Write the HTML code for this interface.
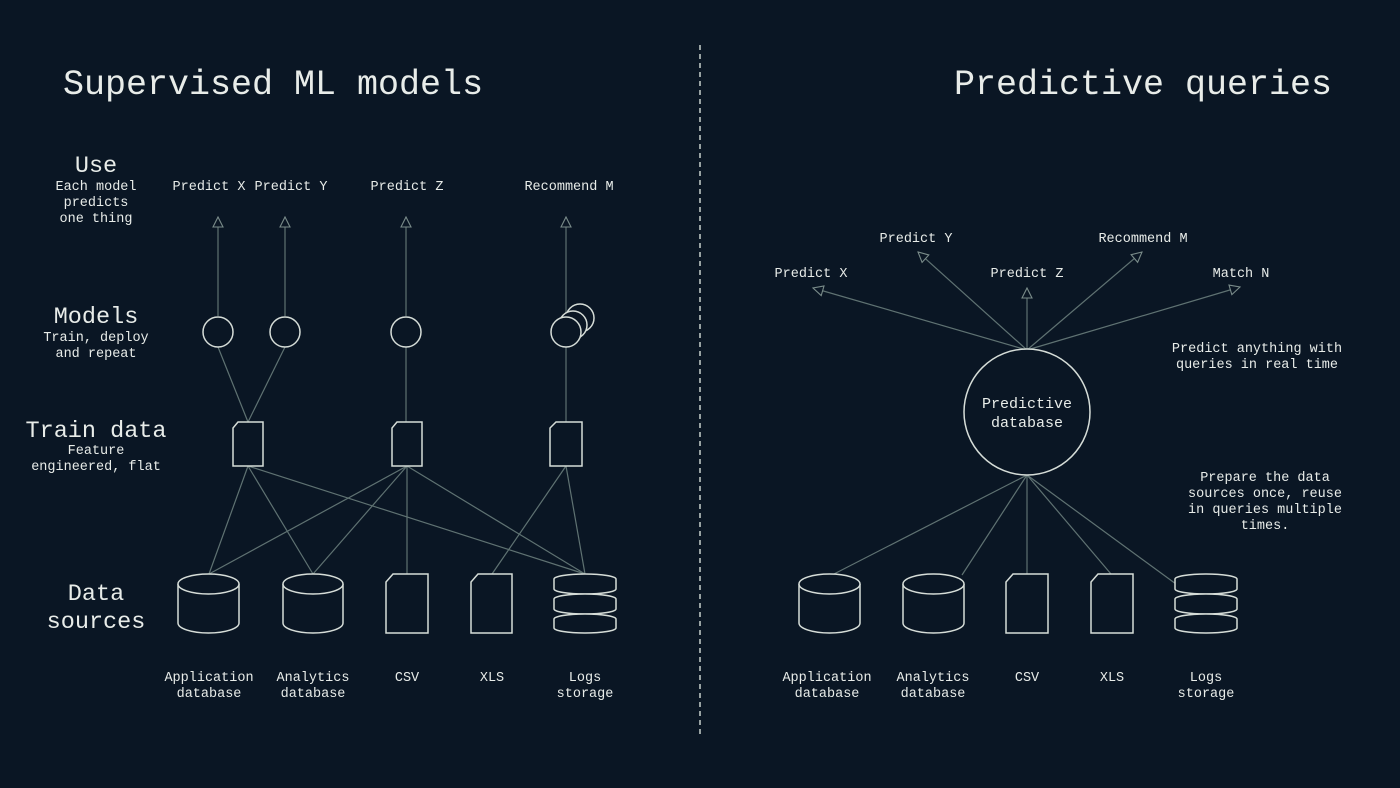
<!DOCTYPE html>
<html><head><meta charset="utf-8"><style>
html,body{margin:0;padding:0;background:#0a1624;}
svg{display:block}
text{font-family:"Liberation Mono","DejaVu Sans Mono",monospace;fill:#e8ece9;}
.s{font-size:13.5px;text-anchor:middle}
.h{font-size:23.5px;text-anchor:middle}
.t{font-size:35px}
.l{stroke:#5f7272;stroke-width:1.2;fill:none}
.o{stroke:#d6ddd8;stroke-width:1.5;fill:#0a1624}
</style></head><body>
<svg width="1400" height="788" viewBox="0 0 1400 788">
<defs><marker id="a" viewBox="0 0 12 12" refX="11" refY="6" markerWidth="12" markerHeight="12" markerUnits="userSpaceOnUse" orient="auto"><path d="M1,1 L11,6 L1,11 Z" fill="#0a1624" stroke="#7a8c8a" stroke-width="1.1"/></marker></defs>
<line x1="700" y1="45" x2="700" y2="738" stroke="#c8d0cc" stroke-width="1.5" stroke-dasharray="5,4"/>
<text class="t" x="63" y="94">Supervised ML models</text>
<text class="t" x="954" y="94">Predictive queries</text>

<text class="h" x="96" y="172">Use</text>
<text class="s" x="96" y="190">Each model</text><text class="s" x="96" y="206">predicts</text><text class="s" x="96" y="222">one thing</text>
<text class="h" x="96" y="323">Models</text>
<text class="s" x="96" y="341">Train, deploy</text><text class="s" x="96" y="357">and repeat</text>
<text class="h" x="96" y="437">Train data</text>
<text class="s" x="96" y="454">Feature</text><text class="s" x="96" y="470">engineered, flat</text>
<text class="h" x="96" y="600">Data</text><text class="h" x="96" y="628">sources</text>

<text class="s" x="209" y="190">Predict X</text><text class="s" x="291" y="190">Predict Y</text>
<text class="s" x="407" y="190">Predict Z</text><text class="s" x="569" y="190">Recommend M</text>

<g class="l">
<line x1="218" y1="316" x2="218" y2="217" marker-end="url(#a)"/>
<line x1="285" y1="316" x2="285" y2="217" marker-end="url(#a)"/>
<line x1="406" y1="316" x2="406" y2="217" marker-end="url(#a)"/>
<line x1="566" y1="316" x2="566" y2="217" marker-end="url(#a)"/>
<line x1="218" y1="347" x2="248" y2="422"/><line x1="285" y1="347" x2="248" y2="422"/>
<line x1="406" y1="347" x2="406" y2="422"/><line x1="566" y1="347" x2="566" y2="422"/>
<line x1="248" y1="466" x2="209" y2="574"/><line x1="248" y1="466" x2="313" y2="574"/><line x1="248" y1="466" x2="585" y2="574"/>
<line x1="407" y1="466" x2="209" y2="574"/><line x1="407" y1="466" x2="313" y2="574"/><line x1="407" y1="466" x2="407" y2="574"/><line x1="407" y1="466" x2="585" y2="574"/>
<line x1="566" y1="466" x2="492" y2="574"/><line x1="566" y1="466" x2="585" y2="574"/>
</g>
<g class="o">
<circle cx="218" cy="332" r="15"/><circle cx="285" cy="332" r="15"/><circle cx="406" cy="332" r="15"/>
<circle cx="580" cy="318" r="14"/><circle cx="573" cy="325" r="14"/><circle cx="566" cy="332" r="15"/>
<path d="M238,422 H263 V466 H233 V428 Z"/>
<path d="M397,422 H422 V466 H392 V428 Z"/>
<path d="M556,422 H582 V466 H550 V428 Z"/>
<!-- left sources -->
<path d="M178,584 V623 A30.5,10 0 0 0 239,623 V584"/><ellipse cx="208.5" cy="584" rx="30.5" ry="10"/>
<path d="M283,584 V623 A30,10 0 0 0 343,623 V584"/><ellipse cx="313" cy="584" rx="30" ry="10"/>
<path d="M393,574 H428 V633 H386 V582 Z"/>
<path d="M478,574 H512 V633 H471 V582 Z"/>
<rect x="554" y="574" width="62" height="20" rx="31" ry="5"/>
<rect x="554" y="594" width="62" height="20" rx="31" ry="5"/>
<rect x="554" y="614" width="62" height="19" rx="31" ry="5"/>
</g>
<text class="s" x="209" y="681">Application</text><text class="s" x="209" y="697">database</text>
<text class="s" x="313" y="681">Analytics</text><text class="s" x="313" y="697">database</text>
<text class="s" x="407" y="681">CSV</text><text class="s" x="492" y="681">XLS</text>
<text class="s" x="585" y="681">Logs</text><text class="s" x="585" y="697">storage</text>

<!-- right -->
<text class="s" x="811" y="277">Predict X</text><text class="s" x="916" y="242">Predict Y</text>
<text class="s" x="1027" y="277">Predict Z</text><text class="s" x="1143" y="242">Recommend M</text>
<text class="s" x="1241" y="277">Match N</text>
<text class="s" x="1257" y="352">Predict anything with</text><text class="s" x="1257" y="368">queries in real time</text>
<text class="s" x="1265" y="481">Prepare the data</text><text class="s" x="1265" y="497">sources once, reuse</text>
<text class="s" x="1265" y="513">in queries multiple</text><text class="s" x="1265" y="529">times.</text>
<g class="l">
<line x1="1027" y1="350" x2="813" y2="288" marker-end="url(#a)"/>
<line x1="1027" y1="350" x2="918" y2="252" marker-end="url(#a)"/>
<line x1="1027" y1="350" x2="1027" y2="288" marker-end="url(#a)"/>
<line x1="1027" y1="350" x2="1142" y2="252" marker-end="url(#a)"/>
<line x1="1027" y1="350" x2="1240" y2="287" marker-end="url(#a)"/>
<line x1="1027" y1="475" x2="832" y2="575"/><line x1="1027" y1="475" x2="962" y2="575"/>
<line x1="1027" y1="475" x2="1027" y2="574"/><line x1="1027" y1="475" x2="1111" y2="574"/>
<line x1="1027" y1="475" x2="1176" y2="584"/>
</g>
<g class="o">
<circle cx="1027" cy="412" r="63"/>
<path d="M799,584 V623 A30.5,10 0 0 0 860,623 V584"/><ellipse cx="829.5" cy="584" rx="30.5" ry="10"/>
<path d="M903,584 V623 A30.5,10 0 0 0 964,623 V584"/><ellipse cx="933.5" cy="584" rx="30.5" ry="10"/>
<path d="M1013,574 H1048 V633 H1006 V582 Z"/>
<path d="M1098,574 H1133 V633 H1091 V582 Z"/>
<rect x="1175" y="574" width="62" height="20" rx="31" ry="5"/>
<rect x="1175" y="594" width="62" height="20" rx="31" ry="5"/>
<rect x="1175" y="614" width="62" height="19" rx="31" ry="5"/>
</g>
<text class="s" x="1027" y="408" style="font-size:15px">Predictive</text>
<text class="s" x="1027" y="427" style="font-size:15px">database</text>
<text class="s" x="827" y="681">Application</text><text class="s" x="827" y="697">database</text>
<text class="s" x="933" y="681">Analytics</text><text class="s" x="933" y="697">database</text>
<text class="s" x="1027" y="681">CSV</text><text class="s" x="1112" y="681">XLS</text>
<text class="s" x="1206" y="681">Logs</text><text class="s" x="1206" y="697">storage</text>
</svg>
</body></html>
